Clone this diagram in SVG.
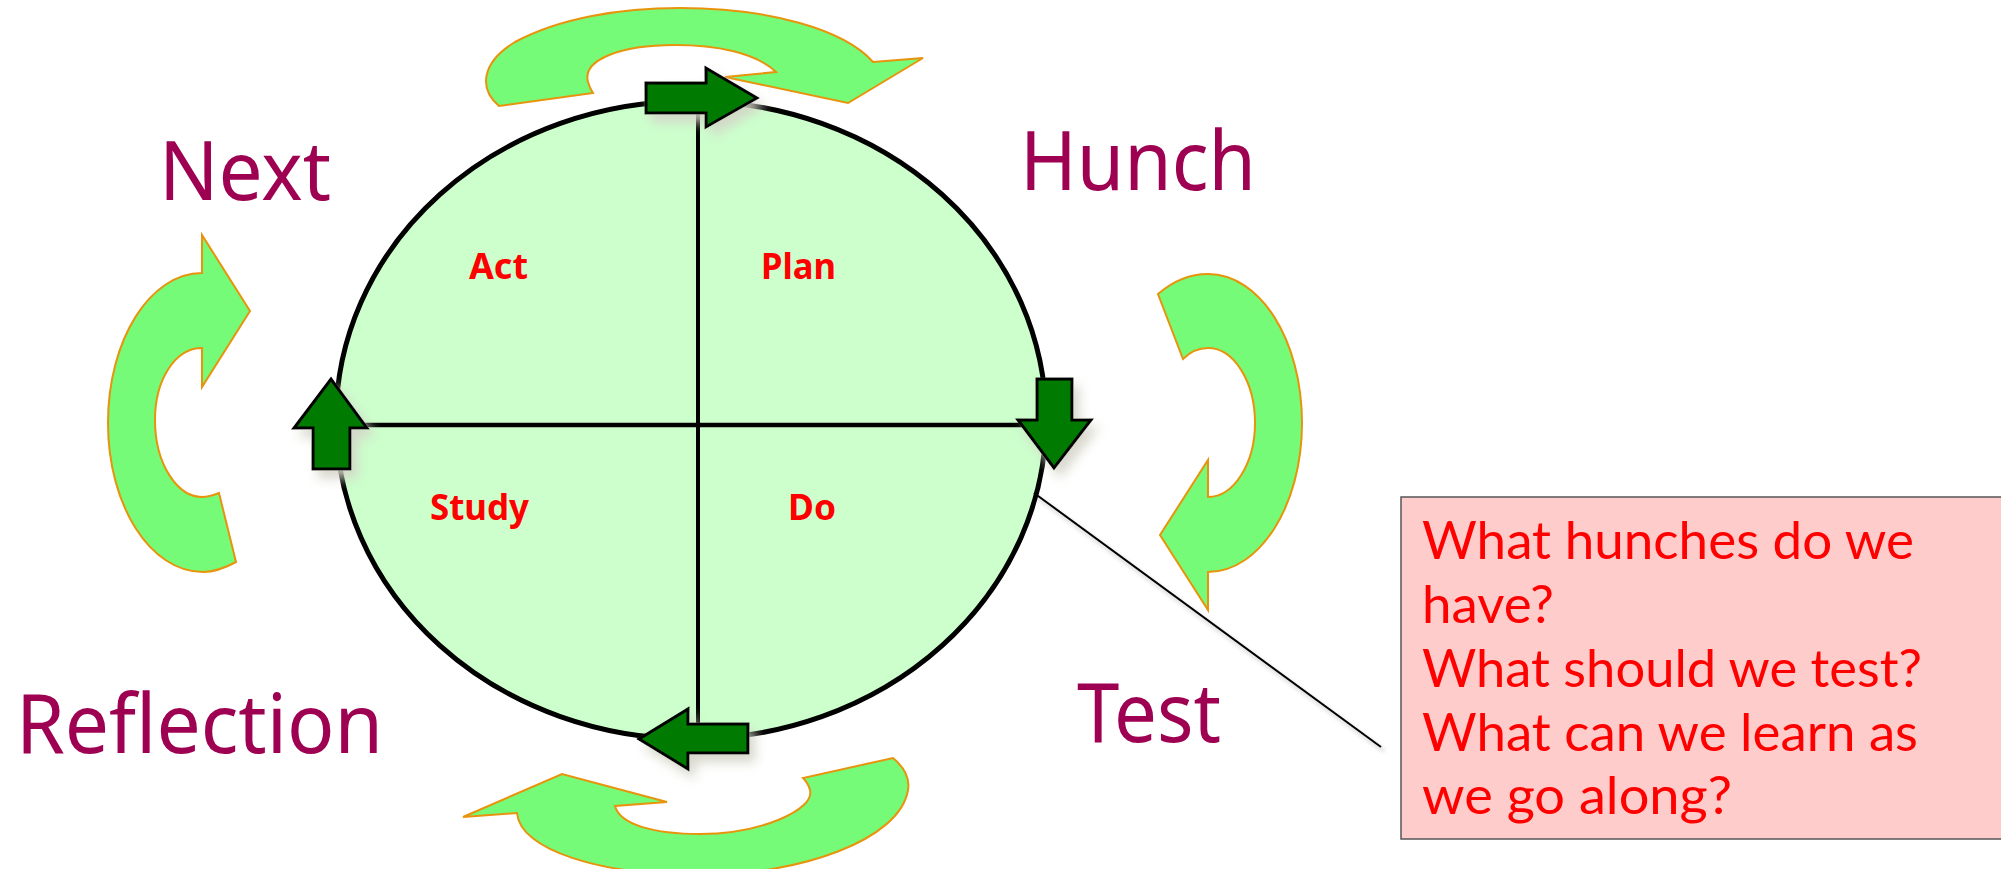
<svg xmlns="http://www.w3.org/2000/svg" width="2001" height="869" viewBox="0 0 2001 869">
<defs>
<style>
.curl{fill:#76FB79;stroke:#E8930C;stroke-width:2;stroke-linejoin:miter}
.blk{fill:#007A00;stroke:#000;stroke-width:3;stroke-linejoin:miter}
.big{font-family:"Noto Sans","Open Sans",sans-serif;font-size:82px;fill:#9E0052}
.q{font-family:"Noto Sans","Open Sans",sans-serif;font-weight:bold;font-size:36px;fill:#FF0000}
.note{font-family:Lato,"Noto Sans",sans-serif;font-size:53px;fill:#FF0000}
</style>
<filter id="sh" x="-60%" y="-60%" width="220%" height="220%">
<feGaussianBlur in="SourceAlpha" stdDeviation="6"/>
<feOffset dx="6" dy="8" result="b"/>
<feFlood flood-color="#d4d4c8" flood-opacity="0.9"/>
<feComposite in2="b" operator="in" result="s"/>
<feMerge><feMergeNode in="s"/><feMergeNode in="SourceGraphic"/></feMerge>
</filter>
<filter id="lsh" x="-10%" y="-10%" width="120%" height="120%">
<feGaussianBlur in="SourceAlpha" stdDeviation="2"/>
<feOffset dx="3" dy="4" result="b"/>
<feFlood flood-color="#000" flood-opacity="0.25"/>
<feComposite in2="b" operator="in" result="s"/>
<feMerge><feMergeNode in="s"/><feMergeNode in="SourceGraphic"/></feMerge>
</filter>
</defs>
<rect width="2001" height="869" fill="#fff"/>

<g id="cycle">
<ellipse cx="691" cy="420" rx="355" ry="319" fill="#CCFFCC" stroke="#000" stroke-width="5"/>
<line x1="698" y1="100" x2="698" y2="736" stroke="#000" stroke-width="4"/>
<line x1="337" y1="425" x2="1046" y2="425" stroke="#000" stroke-width="4.5"/>
</g>

<g id="quadrant-labels">
<text class="q" x="469" y="279" textLength="59" lengthAdjust="spacingAndGlyphs">Act</text>
<text class="q" x="761" y="279" textLength="75" lengthAdjust="spacingAndGlyphs">Plan</text>
<text class="q" x="430" y="520" textLength="99" lengthAdjust="spacingAndGlyphs">Study</text>
<text class="q" x="788" y="520" textLength="48" lengthAdjust="spacingAndGlyphs">Do</text>
</g>

<g id="stage-labels">
<text class="big" x="159" y="200" textLength="172" lengthAdjust="spacingAndGlyphs">Next</text>
<text class="big" x="1020" y="190" textLength="236" lengthAdjust="spacingAndGlyphs">Hunch</text>
<text class="big" x="16" y="753" textLength="367" lengthAdjust="spacingAndGlyphs">Reflection</text>
<text class="big" x="1077" y="742" textLength="144" lengthAdjust="spacingAndGlyphs">Test</text>
</g>

<g id="curl-top">
<path class="curl" d="M499,106 C478,88 482,62 515,42 C560,18 620,8 680,8 C770,8 845,30 873,62 L923,58 L848,103 L725,77 L776,72 C755,52 715,45 675,45 C620,45 582,60 588,82 C589,86 591,90 593,93 Z"/>
</g>
<g id="curl-left">
<path class="curl" d="M236,562 C225,568 214,572 203,572 C150,572 108,505 108,423 C108,340 150,273 202,273 L202,235 L250,311 L202,387 L202,348 C175,348 155,380 155,420 C155,465 178,497 202,497 C208,497 214,495 219,493 Z"/>
</g>
<g id="curl-right">
<path class="curl" d="M1158,294 C1172,282 1190,274 1208,274 C1260,274 1302,340 1302,423 C1302,505 1260,572 1208,572 L1208,610 L1160,535 L1208,460 L1208,497 C1234,497 1255,463 1255,423 C1255,382 1234,348 1208,348 C1199,348 1190,352 1183,359 Z"/>
</g>
<g id="curl-bottom">
<path class="curl" d="M893,758 C905,768 910,778 908,790 C900,840 800,875 700,875 C600,875 520,850 517,813 L463,817 L562,774 L667,802 L615,806 C620,825 655,834 700,834 C760,834 815,810 810,790 C809,786 806,781 803,778 Z"/>
</g>

<g id="arrow-top" filter="url(#sh)">
<path class="blk" d="M646,83 L706,83 L706,68 L757,98 L706,127 L706,113 L646,113 Z"/>
</g>
<g id="arrow-right" filter="url(#sh)">
<path class="blk" d="M1037,379 L1072,379 L1072,420 L1091,420 L1054,468 L1018,420 L1037,420 Z"/>
</g>
<g id="arrow-bottom" filter="url(#sh)">
<path class="blk" d="M748,724 L688,724 L688,709 L639,739 L688,769 L688,753 L748,753 Z"/>
</g>
<g id="arrow-left" filter="url(#sh)">
<path class="blk" d="M313,469 L350,469 L350,428 L367,428 L331,379 L294,428 L313,428 Z"/>
</g>

<g id="connectors" filter="url(#lsh)">
<line x1="1034" y1="493" x2="1381" y2="747" stroke="#000" stroke-width="2"/>
</g>

<g id="note">
<rect x="1401" y="497" width="620" height="342" fill="#FFCCCC" stroke="#555" stroke-width="1.5"/>
<text class="note" x="1422" y="559" textLength="492" lengthAdjust="spacingAndGlyphs">What hunches do we</text>
<text class="note" x="1422" y="623" textLength="132" lengthAdjust="spacingAndGlyphs">have?</text>
<text class="note" x="1422" y="687" textLength="500" lengthAdjust="spacingAndGlyphs">What should we test?</text>
<text class="note" x="1422" y="751" textLength="496" lengthAdjust="spacingAndGlyphs">What can we learn as</text>
<text class="note" x="1422" y="814" textLength="310" lengthAdjust="spacingAndGlyphs">we go along?</text>
</g>
</svg>
